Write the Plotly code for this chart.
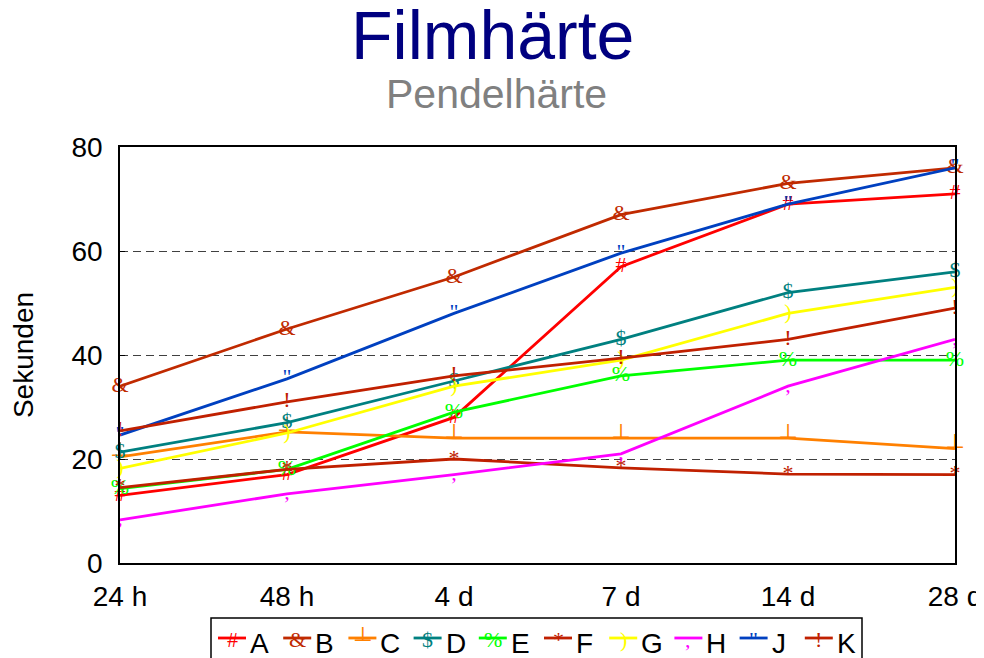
import plotly.graph_objects as go

# categories on the x axis
periods = ["24 h", "48 h", "4 d", "7 d", "14 d", "28 d"]

# pendulum hardness in seconds per sample
a_vals = [13, 17, 28, 57, 69, 71]
b_vals = [34, 45, 55, 67, 73, 76]
c_vals = [20.4, 25.2, 24, 24, 24, 22]
d_vals = [21.3, 27, 35, 43, 52, 56]
e_vals = [14.3, 18, 29, 36, 39, 39]
f_vals = [14.5, 18, 20, 18.3, 17.1, 17]
g_vals = [18.2, 25, 34, 39, 48, 53]
h_vals = [8.3, 13.3, 17, 21, 34, 43]
j_vals = [24.6, 35.4, 48, 59.6, 69, 76]
k_vals = [25.4, 31, 36, 39.4, 43, 49]

series_names = ["A", "B", "C", "D", "E", "F", "G", "H", "J", "K"]
series_values = [a_vals, b_vals, c_vals, d_vals, e_vals,
                 f_vals, g_vals, h_vals, j_vals, k_vals]
series_colors = ["#FF0000", "#C02A00", "#FF8000", "#008080", "#00FF00",
                 "#C02000", "#FFFF00", "#FF00FF", "#0040C0", "#C02000"]
series_glyphs = ["#", "&", "┴", "$", "%", "*", ")", ",", '"', "!"]

# the page body adds an 8px margin, so the figure is shrunk by that much
OFF = 8
W, H = 984 - OFF, 658 - OFF
L, R, T, B = 112, 29, 139, 95
PW, PH = W - L - R, H - T - B


def px_x(x):
    """screen pixel -> paper x"""
    return (x - OFF - L) / PW


def px_y(y):
    """screen pixel -> paper y"""
    return (H - B - (y - OFF)) / PH


GLYPH_FONT = "Liberation Serif, DejaVu Serif"

fig = go.Figure()

for name, vals, color, glyph in zip(series_names, series_values,
                                    series_colors, series_glyphs):
    fig.add_trace(
        go.Scatter(
            x=periods,
            y=vals,
            name=name,
            mode="lines+text",
            text=[glyph] * len(vals),
            textposition="middle center",
            textfont=dict(family=GLYPH_FONT, size=22, color=color),
            line=dict(color=color, width=2.8),
            cliponaxis=False,
            hoverinfo="x+y+name",
        )
    )

shapes = []
annotations = []

# -----------------------
# Legend box drawn by hand
# -----------------------
shapes.append(dict(
    type="rect", xref="paper", yref="paper",
    x0=px_x(211), x1=px_x(862), y0=px_y(618), y1=px_y(675),
    line=dict(color="black", width=1.5), fillcolor="white", layer="above",
))

for i, (name, color, glyph) in enumerate(zip(series_names, series_colors,
                                             series_glyphs)):
    x0 = 218 + 65.2 * i
    shapes.append(dict(
        type="line", xref="paper", yref="paper",
        x0=px_x(x0), x1=px_x(x0 + 28), y0=px_y(638), y1=px_y(638),
        line=dict(color=color, width=2.8), layer="above",
    ))
    annotations.append(dict(
        text=glyph, xref="paper", yref="paper",
        x=px_x(x0 + 14), y=px_y(639), xanchor="center", yanchor="middle",
        showarrow=False, font=dict(family=GLYPH_FONT, size=22, color=color),
    ))
    annotations.append(dict(
        text=name, xref="paper", yref="paper",
        x=px_x(x0 + 30), y=px_y(643), xanchor="left", yanchor="middle",
        showarrow=False, font=dict(size=28, color="black"),
    ))

# -----------------------
# Title and subtitle
# -----------------------
annotations.append(dict(
    text="Filmhärte", xref="paper", yref="paper",
    x=px_x(492), y=px_y(35), xanchor="center", yanchor="middle",
    showarrow=False, font=dict(size=68, color="#000080"),
))
annotations.append(dict(
    text="Pendelhärte", xref="paper", yref="paper",
    x=px_x(496), y=px_y(94), xanchor="center", yanchor="middle",
    showarrow=False, font=dict(size=41, color="#808080"),
))

fig.update_layout(
    width=W,
    height=H,
    paper_bgcolor="white",
    plot_bgcolor="white",
    font=dict(family="Liberation Sans, Arial", size=28, color="black"),
    margin=dict(l=L, r=R, t=T, b=B, autoexpand=False),
    showlegend=False,
    shapes=shapes,
    annotations=annotations,
)

fig.update_xaxes(
    type="category",
    range=[0, 5],
    showline=True,
    linecolor="black",
    linewidth=1.5,
    mirror=True,
    showgrid=False,
    ticks="",
    ticklabelstandoff=8,
)
fig.update_yaxes(
    range=[0, 80],
    dtick=20,
    showline=True,
    linecolor="black",
    linewidth=1.5,
    mirror=True,
    showgrid=True,
    gridcolor="#404040",
    griddash="8px,5px",
    gridwidth=1,
    zeroline=False,
    ticks="inside",
    ticklen=5,
    tickcolor="black",
    ticklabelstandoff=10,
    title=dict(text="Sekunden", font=dict(size=28), standoff=34),
)

fig.write_html("out.html")
